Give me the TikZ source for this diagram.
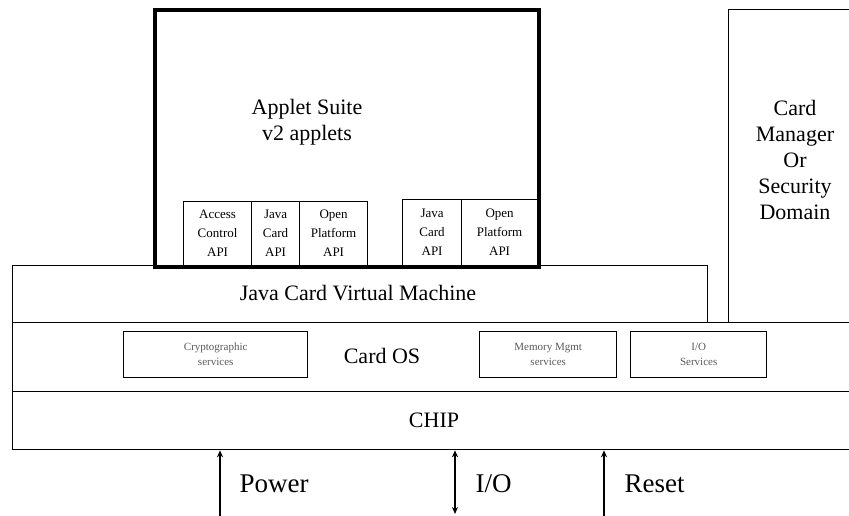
\documentclass[tikz,border=0pt]{standalone}
\usepackage{fontspec}
\setmainfont{Liberation Serif}
\usetikzlibrary{arrows.meta}

\begin{document}
\begin{tikzpicture}[x=1pt,y=-1pt,
    layerbox/.style={draw,line width=1.3pt,rectangle,inner sep=0pt,anchor=north west},
    apibox/.style={draw,line width=1.2pt,rectangle,inner sep=0pt,anchor=north west,align=center,font=\fontsize{13}{19}\selectfont},
    servbox/.style={draw,line width=1.4pt,rectangle,inner sep=0pt,anchor=north west,align=center,text=black!65,font=\fontsize{11}{15}\selectfont},
    bigtext/.style={font=\fontsize{22}{26}\selectfont,align=center},
    sigtext/.style={font=\fontsize{27}{30}\selectfont,anchor=west}]

    \newcommand*{\rowend}{858}%
    \newcommand*{\picbottom}{516}%

    \useasboundingbox (0,0) rectangle (849,516);

    % layers
    \node [layerbox, minimum width=695, minimum height=57] (jcvm) at (12,265) {};
    \node [bigtext] (jcvmtext) at (358,293) {Java Card Virtual Machine};
    \node [layerbox, minimum width={\rowend-12}, minimum height=69] (cardos) at (12,322) {};
    \node [bigtext] (cardostext) at (382,356) {Card OS};
    \node [layerbox, minimum width={\rowend-12}, minimum height=58] (chip) at (12,391) {};
    \node [bigtext] (chiptext) at (434,420) {CHIP};
    \node [layerbox, minimum width={\rowend-728}, minimum height=313] (manager) at (728,9) {};
    \node [bigtext] (managertext) at (795,160) {Card\\Manager\\Or\\Security\\Domain};

    % services
    \foreach \x/\w/\txt [count=\i] in {123/184/{Cryptographic\\services},479/137/{Memory Mgmt\\services},630/136/{I/O\\Services}}
        \node [servbox, minimum width=\w, minimum height=46] (serv\i) at (\x,331) {\txt};

    % API boxes
    \foreach \x/\w/\txt [count=\i] in {183/68/{Access\\Control\\API},251/48/{Java\\Card\\API},299/68/{Open\\Platform\\API}}
        \node [apibox, minimum width=\w, minimum height=64] (api\i) at (\x,201) {\txt};
    \foreach \x/\w/\txt [count=\i] in {402/59/{Java\\Card\\API},461/76/{Open\\Platform\\API}}
        \node [apibox, minimum width=\w, minimum height=66] (apiv\i) at (\x,199) {\txt};

    % applet suite
    \node [draw, line width=3.6pt, rectangle, inner sep=0pt, anchor=north west,
           minimum width=384, minimum height=257] (applet) at (153,8) {};
    \node [bigtext] (applettext) at (307,122) {Applet Suite\\v2 applets};

    % signals
    \coordinate (powerend) at (220,\picbottom);
    \coordinate (ioend) at (455,514);
    \coordinate (resetend) at (604,\picbottom);
    \draw [line width=2.4pt, -{Stealth[length=7pt,width=6pt]}] (powerend) -- (chip.south -| powerend);
    \draw [line width=2.4pt, {Stealth[length=7pt,width=6pt]}-{Stealth[length=7pt,width=6pt]}] (ioend) -- (chip.south -| ioend);
    \draw [line width=1.2pt, -{Stealth[length=7pt,width=6pt]}] (resetend) -- (chip.south -| resetend);
    \node [sigtext] (power) at (236,484) {Power};
    \node [sigtext] (io) at (472,484) {I/O};
    \node [sigtext] (reset) at (621,484) {Reset};

\end{tikzpicture}
\end{document}
